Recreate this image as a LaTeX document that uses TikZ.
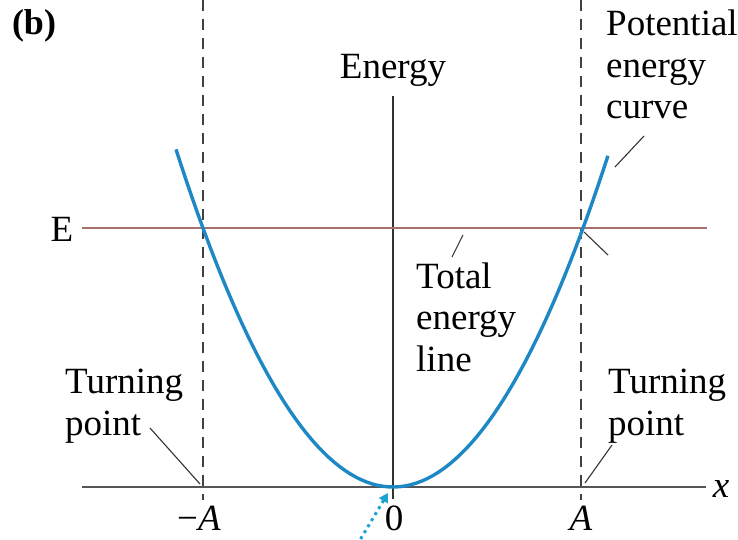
\documentclass[tikz,border=0pt]{standalone}
\usepackage{fontspec}
\setmainfont{Liberation Serif}
\usetikzlibrary{arrows.meta}
\definecolor{curveblue}{HTML}{1E88C4}
\definecolor{ebrown}{HTML}{A8706A}
\definecolor{arrowcyan}{HTML}{1BA3D6}
\definecolor{axisgray}{HTML}{555555}
\begin{document}
\begin{tikzpicture}[x=1pt,y=-1pt,
  lbl/.style={inner sep=0pt, font=\fontsize{37}{41.5}\selectfont, align=left},
  leader/.style={draw=black!80, line width=1.1pt},
  dash line/.style={draw=black!75, line width=1.8pt, dash pattern=on 11pt off 8pt}]
\useasboundingbox (0,0) rectangle (738,540);
% coordinates
\coordinate (xl) at (82,487);
\coordinate (xr) at (706,487);
\coordinate (origin) at (393,487);
\coordinate (vtop) at (393,96);
\coordinate (vbot) at (393,499);
\coordinate (lt) at (203,0);
\coordinate (lb) at (203,500);
\coordinate (rt) at (581,0);
\coordinate (rb) at (581,500);
\coordinate (el) at (82,228);
\coordinate (er) at (707,228);
% dashed lines
\draw[dash line] (lt) -- (lb);
\draw[dash line] (rt) -- (rb);
% axes
\draw[axisgray, line width=2.2pt] (xl) -- (xr);
\draw[black!80, line width=1.3pt] (vtop) -- (vbot);
% total energy line
\draw[ebrown, line width=2.6pt] (el) -- (er);
% parabola
\draw[curveblue, line width=3.4pt, domain=-2.17:2.15, samples=80, variable=\t]
  plot ({393+100*\t},{487-71.7*\t*\t});
% labels
\node[font=\fontsize{36}{40}\selectfont\bfseries, inner sep=0pt, anchor=base] (b) at (34,35) {(b)};
\node[lbl, anchor=base] (energy) at (393,79) {Energy};
\node[lbl, anchor=base] (E) at (62,241) {E};
\node[lbl, anchor=base west] (pot) at (606,119) {Potential\\energy\\curve};
\node[lbl, anchor=base west] (tot) at (416,371) {Total\\energy\\line};
\node[lbl, anchor=base west] (tpl) at (65,435) {Turning\\point};
\node[lbl, anchor=base west] (tpr) at (608,435) {Turning\\point};
\node[lbl, anchor=base, font=\fontsize{37}{41.5}\selectfont\itshape] (x) at (721,497) {x};
\node[lbl, anchor=base] (mA) at (199,530) {\char"2212\textit{A}};
\node[lbl, anchor=base] (zero) at (394,530) {0};
\node[lbl, anchor=base, font=\fontsize{37}{41.5}\selectfont\itshape] (A) at (581,530) {A};
% leaders
\coordinate (potA) at (644,136);
\coordinate (potB) at (615,167);
\draw[leader] (potA) -- (potB);
\coordinate (totA) at (452,257);
\coordinate (totB) at (463,235);
\draw[leader] (totA) -- (totB);
\coordinate (xA) at (584,232);
\coordinate (xB) at (608,255);
\draw[leader] (xA) -- (xB);
\coordinate (tlA) at (150,428);
\coordinate (tlB) at (200,484);
\draw[leader] (tlA) -- (tlB);
\coordinate (trA) at (612,445);
\coordinate (trB) at (585,483);
\draw[leader] (trA) -- (trB);
% dotted arrow
\coordinate (arS) at (357,545);
\coordinate (arE) at (388,493);
\draw[arrowcyan, line width=3pt, dash pattern=on 3pt off 4pt, -{Triangle[length=9pt,width=10pt]}] (arS) -- (arE);
\end{tikzpicture}
\end{document}
